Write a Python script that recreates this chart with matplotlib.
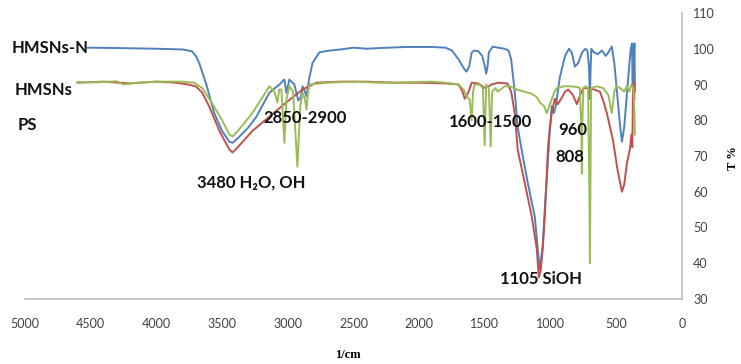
import matplotlib
matplotlib.use("Agg")
import matplotlib.pyplot as plt

# FTIR spectra, wavenumber (1/cm) vs transmittance (%)
blue_wn = [4520, 4300, 4000, 3800, 3730, 3700, 3674, 3620, 3560, 3500, 3445, 3420, 3380, 3300,
           3239, 3180, 3140, 3064, 3026, 3011, 2988, 2950, 2920, 2900, 2888, 2870, 2858, 2845,
           2835, 2812, 2760, 2700, 2600, 2500, 2400, 2300, 2100, 1900, 1800, 1750, 1700, 1660,
           1640, 1620, 1600, 1580, 1550, 1520, 1500, 1490, 1480, 1470, 1440, 1400, 1350, 1320,
           1300, 1273, 1250, 1220, 1174, 1120, 1098, 1082, 1060, 1040, 1029, 1010, 991, 975,
           960, 930, 890, 860, 840, 815, 790, 760, 735, 720, 708, 701, 695, 690, 670, 640, 610,
           580, 560, 534, 515, 490, 470, 457, 440, 420, 400, 390, 381, 375, 372, 368, 362, 358]
blue_t = [100.3, 100.2, 100.0, 99.8, 99.3, 98, 96, 90, 82, 77, 74, 73.7, 75, 78,
          81, 85, 87.7, 90, 91.4, 87.7, 91.4, 90, 85.5, 86.5, 89.5, 88, 86.7, 90,
          92, 96, 99, 99.4, 99.8, 100.3, 100, 100.2, 100.5, 100.5, 100.3, 99.5, 97, 94.5,
          93.6, 95, 99, 99.5, 99.3, 98, 95, 93, 95, 99, 100.6, 100.3, 100, 99.5,
          97, 88, 78, 71.7, 62.5, 53, 44, 38.3, 45, 58, 63.5, 75, 84, 82,
          84, 92, 98, 100, 99, 95, 96, 99, 100, 99.5, 95, 86, 95, 100, 99, 98.5, 99.5,
          98, 99, 100.6, 96, 86, 78, 74, 78, 87, 96, 100, 101.5, 90, 101, 95, 101.5, 88]

red_wn = [4600, 4400, 4200, 4000, 3850, 3760, 3700, 3651, 3600, 3520, 3445, 3420, 3380, 3270,
          3140, 3011, 2888, 2782, 2600, 2400, 2200, 2000, 1800, 1700, 1670, 1654, 1630, 1600,
          1550, 1500, 1470, 1450, 1400, 1330, 1300, 1273, 1250, 1197, 1143, 1105, 1090, 1075,
          1060, 1044, 1021, 1006, 991, 968, 945, 920, 890, 865, 830, 800, 775, 750, 700, 625,
          600, 572, 526, 490, 457, 440, 419, 396, 385, 378, 373, 368, 362]
red_t = [90.5, 90.8, 90.3, 90.8, 90.5, 90, 89.5, 87.7, 84, 77, 71.8, 71, 72.5, 77,
         81, 85, 88.6, 90.5, 90.8, 90.8, 90.5, 90.5, 90.3, 90, 88, 86, 87.5, 90.5,
         90.3, 89, 89.5, 90, 90.5, 90.3, 88, 82, 71.7, 62.5, 53, 44, 36, 38,
         44, 53, 71.7, 78, 82, 86, 84.5, 86, 88, 88.6, 87, 84.5, 87, 89, 89, 88,
         85.5, 82, 74.5, 66, 60, 62, 68, 72, 76, 72.5, 88, 90.5, 86]

green_wn = [4600, 4450, 4300, 4250, 4150, 4000, 3800, 3712, 3651, 3580, 3500, 3445, 3420, 3380,
            3270, 3200, 3140, 3102, 3079, 3065, 3049, 3026, 3010, 2988, 2960, 2927, 2905, 2888,
            2870, 2858, 2845, 2835, 2700, 2500, 2300, 2100, 1900, 1800, 1700, 1660, 1640, 1616,
            1601, 1590, 1578, 1540, 1515, 1502, 1490, 1470, 1456, 1445, 1420, 1402, 1350, 1311,
            1250, 1200, 1150, 1105, 1082, 1050, 1029, 1010, 990, 970, 953, 900, 850, 800, 777,
            765, 762, 758, 750, 735, 715, 705, 701, 697, 692, 650, 600, 560, 534, 515, 500, 470,
            440, 420, 400, 385, 370, 362, 358]
green_t = [90.7, 90.6, 90.9, 90.0, 90.5, 90.8, 90.8, 90.5, 89, 85, 80, 76, 75.5, 77,
           82, 86, 89.5, 88, 85, 88.6, 88.6, 73.7, 86, 89.5, 88, 67, 84, 87.7,
           86, 83, 88, 90, 90.5, 90.8, 90.5, 90.6, 90.8, 90.5, 90, 88.5, 86.7, 85.8,
           80, 88, 90, 90, 89, 73, 90, 89, 72.7, 88, 89, 88, 89.5, 89.5,
           88.5, 88, 87.5, 86.5, 85, 84, 82, 84, 86, 88, 89, 89.5, 89.5, 89.3, 89,
           75, 65, 80, 89, 89.5, 89, 60, 40, 60, 89, 89.5, 89, 87, 82, 88, 89.5, 89,
           88, 89.5, 88, 90, 89, 82, 76]

x_ticks = [5000, 4500, 4000, 3500, 3000, 2500, 2000, 1500, 1000, 500, 0]
y_ticks = [30, 40, 50, 60, 70, 80, 90, 100, 110]

series_labels = [("HMSNs-N", 5100, 100.3), ("HMSNs", 5076, 88.5), ("PS", 5053, 78.8)]
peak_labels = [("3480 H\u2082O, OH", 3691, 62.5), ("2850-2900", 3189, 80.7),
               ("1600-1500", 1773, 79.6), ("960", 944, 77.4), ("808", 966, 69.8),
               ("1105 SiOH", 1385, 35.7)]

fig = plt.figure(figsize=(7.41, 3.64), dpi=100)
ax = fig.add_axes([25 / 741, 1 - 299 / 364, 657 / 741, 286 / 364])

ax.plot(blue_wn, blue_t, color="#4F81BD", lw=1.4)
ax.plot(red_wn, red_t, color="#C0504D", lw=1.4)
ax.plot(green_wn, green_t, color="#9BBB59", lw=1.4)

ax.set_xlim(5000, 0)
ax.set_ylim(30, 110)
ax.set_xticks(x_ticks)
ax.set_yticks(y_ticks)
ax.yaxis.tick_right()
ax.tick_params(axis="x", length=0, pad=14, labelsize=9, labelcolor="#404040")
ax.tick_params(axis="y", length=0, pad=8, labelsize=9, labelcolor="#404040")
for lab in ax.get_xticklabels() + ax.get_yticklabels():
    lab.set_family("Lato")

for s in ["top", "left"]:
    ax.spines[s].set_visible(False)
for s in ["bottom", "right"]:
    ax.spines[s].set_color("#BFBFBF")
    ax.spines[s].set_linewidth(1.2)

for txt, x, y in series_labels + peak_labels:
    ax.text(x, y, txt, ha="left", va="center", fontsize=12, fontweight="bold",
            family=["Lato", "DejaVu Sans"], color="#111111", clip_on=False)

fig.text(348 / 741, 1 - 355 / 364, "1/cm", ha="center", va="center", fontsize=9,
         fontweight="bold", family="Liberation Serif")
fig.text(733 / 741, 1 - 158 / 364, "T %", ha="center", va="center", fontsize=9,
         fontweight="bold", family="Liberation Serif", rotation=90)

fig.savefig("out.png", dpi=100)
